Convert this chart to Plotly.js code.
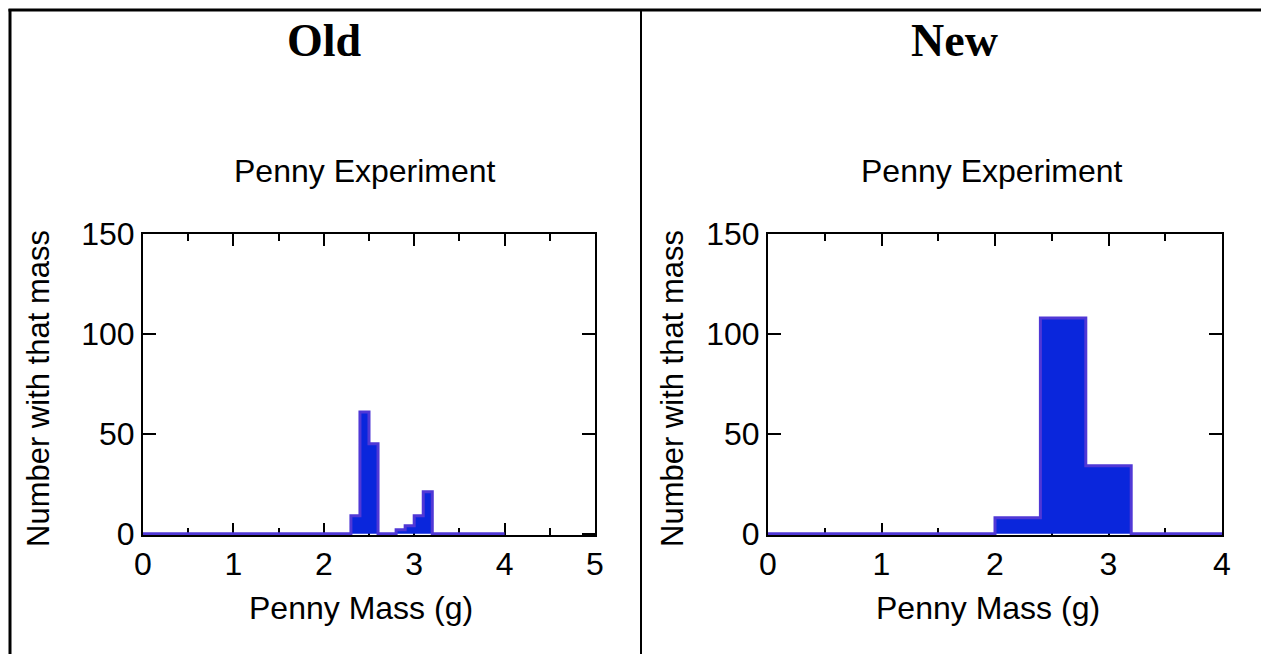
<!DOCTYPE html>
<html>
<head>
<meta charset="utf-8">
<script src="https://cdn.plot.ly/plotly-3.0.1.min.js"></script>
<style>
  html, body { margin: 0; padding: 0; background: #ffffff; overflow: hidden; }
  #chart { width: 1261px; height: 654px; }
</style>
</head>
<body>
<div id="chart"></div>
<script>
// ---- Data ----
const panelHeadings = ["Old", "New"];
const chartTitle = "Penny Experiment";
const xAxisTitle = "Penny Mass (g)";
const yAxisTitle = "Number with that mass";

// Old: bin edges (g) and counts per bin
const oldBinEdges = [0, 2.3, 2.4, 2.5, 2.6, 2.8, 2.9, 3.0, 3.1, 3.2, 4];
const oldCounts   = [0, 9, 61, 45, 0, 2, 4, 9, 21, 0];

// New: bin edges (g) and counts per bin
const newBinEdges = [0, 2.0, 2.4, 2.8, 3.2, 4];
const newCounts   = [0, 8, 108, 34, 0];

const oldXTicks = [0, 1, 2, 3, 4, 5];
const newXTicks = [0, 1, 2, 3, 4];
const yTicks = [0, 50, 100, 150];

// ---- Styling ----
const W = 1261, H = 654;
const FILL = "rgb(10,38,220)";
const EDGE = "rgb(80,56,214)";
const SANS = "Liberation Sans, Arial, sans-serif";
const SERIF = "Liberation Serif, Times New Roman, serif";

function px(x) { return x / W; }
function py(y) { return 1 - y / H; }

function stepTrace(edges, counts, xa, ya) {
  const y = counts.concat([counts[counts.length - 1]]);
  return {
    type: "scatter", mode: "lines", x: edges, y: y,
    line: { shape: "hv", color: EDGE, width: 3 },
    fill: "tozeroy", fillcolor: FILL,
    xaxis: xa, yaxis: ya, hoverinfo: "skip", showlegend: false
  };
}

const data = [
  stepTrace(oldBinEdges, oldCounts, "x", "y"),
  stepTrace(newBinEdges, newCounts, "x2", "y2")
];

function xAxis(domain, range, ticks, anchor) {
  return {
    domain: domain, range: range, anchor: anchor,
    tickmode: "array", tickvals: ticks, ticktext: ticks.map(String),
    ticks: "inside", ticklen: 12, tickwidth: 2, tickcolor: "#000",
    minor: { dtick: 0.5, ticks: "inside", ticklen: 7, tickwidth: 2, tickcolor: "#000" },
    showline: true, linewidth: 2, linecolor: "#000", mirror: "ticks",
    showgrid: false, zeroline: false, layer: "below traces",
    tickfont: { family: SANS, size: 32, color: "#000" },
    fixedrange: true
  };
}
function yAxis(domain, anchor) {
  return {
    domain: domain, range: [-0.6, 150], anchor: anchor,
    tickmode: "array", tickvals: yTicks, ticktext: yTicks.map(String),
    ticks: "inside", ticklen: 13, tickwidth: 2, tickcolor: "#000",
    showline: true, linewidth: 2, linecolor: "#000", mirror: "ticks",
    showgrid: false, zeroline: false, layer: "below traces",
    tickfont: { family: SANS, size: 32, color: "#000" },
    fixedrange: true
  };
}

const yDom = [py(535), py(234)];

const ann = [];
function addText(text, x, y, size, family, extra) {
  ann.push(Object.assign({
    text: text, x: px(x), y: py(y), xref: "paper", yref: "paper",
    xanchor: "center", yanchor: "middle", showarrow: false,
    font: { family: family, size: size, color: "#000" }
  }, extra || {}));
}
addText("<b>" + panelHeadings[0] + "</b>", 325, 40, 46, SERIF);
addText("<b>" + panelHeadings[1] + "</b>", 954, 40, 46, SERIF);
addText(chartTitle, 365, 171, 32, SANS);
addText(chartTitle, 992, 171, 32, SANS);
addText(xAxisTitle, 361, 608, 32, SANS);
addText(xAxisTitle, 988, 608, 32, SANS);
addText(yAxisTitle, 38, 389, 31, SANS, { textangle: -90 });
addText(yAxisTitle, 672, 389, 31, SANS, { textangle: -90 });

const border = { color: "#000", width: 3 };
const shapes = [
  { type: "line", xref: "paper", yref: "paper", x0: px(10), x1: px(10), y0: py(9), y1: py(660), line: border },
  { type: "line", xref: "paper", yref: "paper", x0: px(8.5), x1: px(1270), y0: py(10), y1: py(10), line: border },
  { type: "line", xref: "paper", yref: "paper", x0: px(641), x1: px(641), y0: py(10), y1: py(660), line: { color: "#000", width: 2 } }
];

const layout = {
  width: W, height: H,
  margin: { l: 0, r: 0, t: 0, b: 0, pad: 0 },
  paper_bgcolor: "#fff", plot_bgcolor: "#fff",
  showlegend: false,
  xaxis: xAxis([px(143), px(595)], [0, 5], oldXTicks, "y"),
  yaxis: yAxis(yDom, "x"),
  xaxis2: xAxis([px(768), px(1222)], [0, 4], newXTicks, "y2"),
  yaxis2: yAxis(yDom, "x2"),
  annotations: ann,
  shapes: shapes
};

Plotly.newPlot("chart", data, layout, { displayModeBar: false, staticPlot: true });
</script>
</body>
</html>
